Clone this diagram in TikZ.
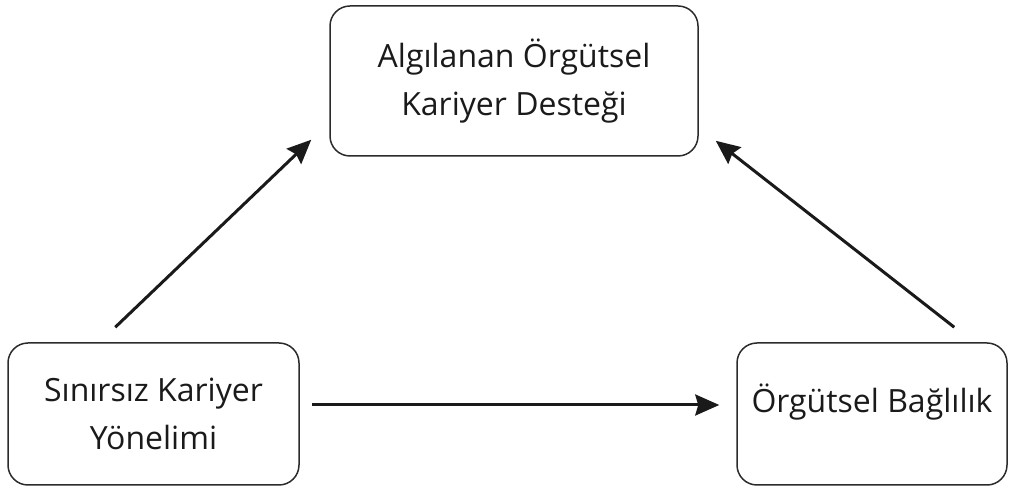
\documentclass[tikz,border=0pt]{standalone}
\usepackage{fontspec}
\setmainfont{Open Sans}
\usepackage{tikz}
\usetikzlibrary{positioning,arrows.meta,calc}
\definecolor{boxline}{HTML}{2B2B2B}
\definecolor{ink}{HTML}{1A1A1A}

\begin{document}
\begin{tikzpicture}[x=1pt,y=1pt,
    conbox/.style={draw=boxline, line width=1.5pt, rounded corners=20pt,
      align=center, font=\fontsize{32}{48}\selectfont, text=ink},
    link/.style={-{Stealth[length=24pt,width=21pt,inset=3pt]}, line width=3pt, ink}]
    \useasboundingbox (0,0) rectangle (1009,489);

    % Boxes
    \node[conbox, minimum width=368pt, minimum height=150pt] (aokd) at (514,408)
      {Algılanan Örgütsel\\Kariyer Desteği};
    \node[conbox, minimum width=291pt, minimum height=142pt] (ski) at (153.5,75)
      {Sınırsız Kariyer\\Yönelimi};
    \node[conbox, minimum width=270pt, minimum height=142pt] (ob) at (872,75) {};
    \node[font=\fontsize{32}{48}\selectfont, text=ink] (obtext) at ([yshift=12pt]ob.center)
      {Örgütsel Bağlılık};

    % Arrow ends
    \coordinate (skiout) at ([xshift=108pt,yshift=15pt]ski.north west);
    \coordinate (aokdinl) at ([xshift=-18pt,yshift=17pt]aokd.south west);
    \coordinate (obout) at ([xshift=218pt,yshift=15pt]ob.north west);
    \coordinate (aokdinr) at ([xshift=17pt,yshift=16pt]aokd.south east);
    \coordinate (skiright) at ([xshift=12pt,yshift=9pt]ski.east);
    \coordinate (obleft) at ([xshift=-17pt,yshift=9pt]ob.west);

    % Arrows
    \draw[link] (skiout) -- (aokdinl);
    \draw[link] (obout) -- (aokdinr);
    \draw[link] (skiright) -- (obleft);
\end{tikzpicture}
\end{document}
